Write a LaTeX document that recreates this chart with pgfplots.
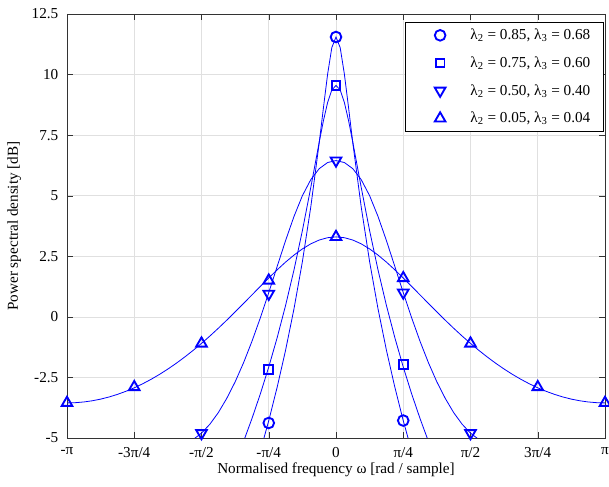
\documentclass[border=0pt]{standalone}
\usepackage{fontspec}
\setmainfont{Liberation Serif}
\usepackage{pgfplots}
\pgfplotsset{compat=1.18}
\definecolor{mblue}{RGB}{0,0,255}
\newcommand{\fsz}{\fontsize{11.4}{13.7}\selectfont}

\begin{document}
\begin{tikzpicture}
\begin{axis}[
  scale only axis, width=403.5pt, height=318pt,
  xmin=-32, xmax=32, ymin=-5, ymax=12.5,
  xtick={-32,-24,-16,-8,0,8,16,24,32},
  xticklabels={-π,-3π/4,-π/2,-π/4,0,π/4,π/2,3π/4,π},
  ytick={-5,-2.5,0,2.5,5,7.5,10,12.5},
  /pgf/number format/assume math mode=true,
  /pgf/number format/fixed,
  tick label style={font=\fsz},
  xticklabel style={yshift=-3.5pt},
  yticklabel style={xshift=-3pt},
  label style={font=\fsz},
  xlabel={Normalised frequency ω [rad / sample]},
  ylabel={Power spectral density [dB]},
  xlabel style={yshift=3pt},
  ylabel style={yshift=1pt},
  grid=major, major grid style={black!12, line width=0.5pt},
  axis line style={black!80}, tick style={black!80},
  tick align=inside, major tick length=4.5pt,
  legend cell align=left,
  legend image code/.code={\path[mark repeat=2,mark phase=2,#1] plot coordinates {(0pt,0pt)(18.25pt,0pt)(39pt,0pt)};},
  legend style={at={(0.998,0.981)}, anchor=north east, draw=black, fill=white,
    font=\fsz, inner xsep=8pt, inner ysep=3pt, row sep=7.25pt},
  mk/.style={draw=none, mark options={draw=mblue, solid, line width=1.4pt, #1}},
]
% spectra (x in units of pi/32)
\addplot[mblue, line width=0.6pt, forget plot] coordinates {
 (-10,-6.694)(-9,-5.541)(-8,-4.284)(-7,-2.905)(-6,-1.380)(-5,0.328)(-4,2.274)(-3,4.535)
 (-2,7.178)(-1.5,8.615)(-1,10.01)(-0.5,11.11)(0,11.55)(0.5,11.11)(1,10.01)(1.5,8.615)
 (2,7.178)(3,4.535)(4,2.274)(5,0.328)(6,-1.380)(7,-2.905)(8,-4.284)(9,-5.541)(10,-6.694)};
\addplot[mblue, line width=0.6pt, forget plot] coordinates {
 (-12,-6.017)(-11,-5.144)(-10,-4.200)(-9,-3.179)(-8,-2.070)(-7,-0.860)(-6,0.468)(-5,1.933)
 (-4,3.556)(-3,5.340)(-2,7.206)(-1.5,8.089)(-1,8.843)(-0.5,9.363)(0,9.55)(0.5,9.363)
 (1,8.843)(1.5,8.089)(2,7.206)(3,5.340)(4,3.556)(5,1.933)(6,0.468)(7,-0.860)(8,-2.070)
 (9,-3.179)(10,-4.200)(11,-5.144)(12,-6.017)};
\addplot[mblue, line width=0.6pt, forget plot] coordinates {
 (-18,-5.219)(-17,-5.065)(-16,-4.801)(-15,-4.429)(-14,-3.953)(-13,-3.367)(-12,-2.685)
 (-11,-1.897)(-10,-1.012)(-9,-0.040)(-8,1.000)(-7,2.078)(-6,3.146)(-5,4.142)(-4,4.999)
 (-3,5.663)(-2,6.115)(-1,6.369)(0,6.449)(1,6.369)(2,6.115)(3,5.663)(4,4.999)(5,4.142)
 (6,3.146)(7,2.078)(8,1.000)(9,-0.040)(10,-1.012)(11,-1.897)(12,-2.685)(13,-3.367)
 (14,-3.953)(15,-4.429)(16,-4.801)(17,-5.065)(18,-5.219)};
\addplot[mblue, line width=0.6pt, forget plot] coordinates {
 (-32,-3.552)(-31,-3.542)(-30,-3.513)(-29,-3.464)(-28,-3.396)(-27,-3.308)(-26,-3.200)
 (-25,-3.074)(-24,-2.928)(-23,-2.763)(-22,-2.579)(-21,-2.376)(-20,-2.155)(-19,-1.916)
 (-18,-1.659)(-17,-1.385)(-16,-1.095)(-15,-0.791)(-14,-0.471)(-13,-0.139)(-12,0.203)
 (-11,0.552)(-10,0.905)(-9,1.258)(-8,1.605)(-7,1.941)(-6,2.259)(-5,2.549)(-4,2.803)
 (-3,3.013)(-2,3.170)(-1,3.267)(0,3.300)(1,3.267)(2,3.170)(3,3.013)(4,2.803)(5,2.549)
 (6,2.259)(7,1.941)(8,1.605)(9,1.258)(10,0.905)(11,0.552)(12,0.203)(13,-0.139)
 (14,-0.471)(15,-0.791)(16,-1.095)(17,-1.385)(18,-1.659)(19,-1.916)(20,-2.155)
 (21,-2.376)(22,-2.579)(23,-2.763)(24,-2.928)(25,-3.074)(26,-3.200)(27,-3.308)
 (28,-3.396)(29,-3.464)(30,-3.513)(31,-3.542)(32,-3.552)};
% markers
\addplot[mk={}, mark=o, mark size=4pt]
 coordinates {(-8,-4.38)(0,11.55)(8,-4.28)};
\addlegendentry{λ\textsubscript{2} = 0.85, λ\textsubscript{3} = 0.68}
\addplot[mk={}, mark=square, mark size=3.3pt]
 coordinates {(-8,-2.17)(0,9.55)(8,-1.97)};
\addlegendentry{λ\textsubscript{2} = 0.75, λ\textsubscript{3} = 0.60}
\addplot[mk={rotate=180}, mark=triangle, mark size=4.6pt]
 coordinates {(-16,-4.8)(-8,0.95)(0,6.45)(8,1.0)(16,-4.8)};
\addlegendentry{λ\textsubscript{2} = 0.50, λ\textsubscript{3} = 0.40}
\addplot[mk={}, mark=triangle, mark size=4.6pt]
 coordinates {(-32,-3.55)(-24,-2.9)(-16,-1.1)(-8,1.5)(0,3.3)(8,1.6)(16,-1.1)(24,-2.9)(32,-3.55)};
\addlegendentry{λ\textsubscript{2} = 0.05, λ\textsubscript{3} = 0.04}
\end{axis}
\pgfresetboundingbox
\path[use as bounding box] ([xshift=-50.25pt,yshift=-36.75pt]current axis.south west)
  rectangle ([xshift=3pt,yshift=10.5pt]current axis.north east);
\end{tikzpicture}
\end{document}
